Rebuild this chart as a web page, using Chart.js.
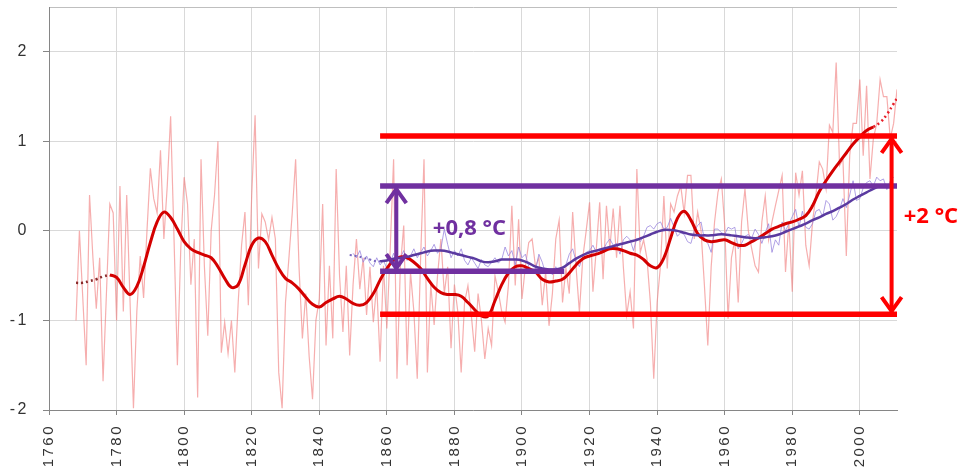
<!DOCTYPE html>
<html>
<head>
<meta charset="utf-8">
<script src="https://cdn.jsdelivr.net/npm/chart.js@4.4.1/dist/chart.umd.min.js"></script>
<style>
  html, body { margin: 0; padding: 0; background: #ffffff; }
  #wrap { width: 960px; height: 470px; position: relative; }
</style>
</head>
<body>
<div id="wrap"><canvas id="c" width="960" height="470"></canvas></div>
<script>
// ---------- DATA ----------
// Local annual anomaly (thin pink), one value per year from LOCAL_FIRST_YEAR
const LOCAL_FIRST_YEAR = 1768;
const localAnnual = [
  -1.00, 0.00, -0.75, -1.50, 0.40, -0.30, -0.87, -0.30, -1.68, -0.70,
  0.30, 0.20, -1.00, 0.50, -0.90, 0.40, -0.80, -1.98, -0.90, -0.28,
  -0.75, 0.00, 0.70, 0.36, 0.20, 0.90, -0.09, 0.50, 1.28, -0.08,
  -1.50, -0.20, 0.60, 0.30, -0.60, -0.09, -1.86, 0.80, -0.40, -1.17,
  0.00, 0.40, 1.00, -1.36, -1.02, -1.37, -1.00, -1.58, -0.80, -0.16,
  0.21, -0.83, 0.40, 1.29, -0.42, 0.19, 0.10, -0.10, 0.15, -0.09,
  -1.58, -1.98, -0.80, -0.31, 0.20, 0.80, -0.40, -1.20, -0.70, -1.40,
  -1.88, -1.00, -0.76, 0.30, -1.28, -0.39, -1.20, 0.69, -0.50, -1.13,
  -0.39, -1.39, -0.60, -0.09, -0.65, -0.30, -0.94, -0.40, -1.02, -0.60,
  -1.46, -0.39, -1.09, -0.20, 0.80, -1.65, -0.40, 0.06, -1.50, -0.46,
  -0.90, -1.65, -0.30, 0.80, -1.58, -0.60, -1.05, -0.50, -0.09, -0.70,
  -0.40, -1.31, -0.60, -0.90, -1.58, -0.80, -0.61, -0.94, -1.35, -0.70,
  -1.00, -1.43, -1.09, -1.28, -0.50, -0.68, -0.90, -1.02, -0.60, 0.28,
  -0.61, 0.13, -0.76, -0.40, -0.13, -0.09, -0.40, -0.30, -0.83, -0.46,
  -1.06, -0.70, -0.09, 0.12, -0.80, -0.42, -0.70, 0.21, -0.40, -0.91,
  -0.30, 0.00, 0.32, -0.68, -0.20, 0.32, -0.54, 0.28, -0.20, 0.25,
  -0.30, 0.28, -0.40, -0.94, -0.68, -1.09, 0.69, -0.24, -0.10, -0.31,
  -0.80, -1.65, -0.80, -0.39, 0.39, -0.42, 0.30, 0.21, 0.39, 0.50,
  0.20, 0.62, 0.62, -0.09, 0.21, 0.00, -0.61, -1.28, -0.40, 0.10,
  0.43, 0.58, 0.06, -0.98, -0.30, -0.10, -0.80, 0.10, 0.47, 0.00,
  -0.20, -0.39, -0.46, 0.10, 0.39, -0.10, 0.10, 0.28, 0.45, 0.62,
  -0.46, 0.10, -0.68, 0.65, 0.40, 0.67, -0.16, -0.39, 0.10, 0.40,
  0.77, 0.69, 0.47, 1.18, 1.10, 1.88, 0.73, 0.80, -0.28, 0.84,
  1.20, 1.20, 1.69, 0.84, 1.62, 0.58, 1.03, 1.20, 1.69, 1.50,
  1.50, 1.03, 1.20, 1.58
];

// Global annual anomaly (thin lavender), one value per year from GLOBAL_FIRST_YEAR
const GLOBAL_FIRST_YEAR = 1850;
const globalAnnual = [
  -0.25, -0.30, -0.22, -0.35, -0.28, -0.36, -0.40, -0.30, -0.38, -0.33,
  -0.42, -0.36, -0.25, -0.38, -0.30, -0.22, -0.33, -0.28, -0.20, -0.30,
  -0.24, -0.18, -0.28, -0.22, -0.15, -0.25, -0.20, 0.02, -0.15, -0.30,
  -0.22, -0.28, -0.20, -0.33, -0.38, -0.30, -0.36, -0.42, -0.32, -0.38,
  -0.40, -0.35, -0.30, -0.36, -0.32, -0.18, -0.28, -0.22, -0.38, -0.18,
  -0.30, -0.26, -0.40, -0.46, -0.44, -0.26, -0.35, -0.48, -0.44, -0.49,
  -0.40, -0.46, -0.42, -0.38, -0.26, -0.20, -0.34, -0.40, -0.28, -0.24,
  -0.22, -0.16, -0.24, -0.20, -0.22, -0.14, -0.09, -0.16, -0.14, -0.26,
  -0.10, -0.06, -0.10, -0.22, -0.08, -0.12, -0.06, 0.04, 0.06, 0.02,
  0.08, 0.10, 0.02, 0.04, 0.14, 0.04, -0.06, -0.02, -0.04, -0.12,
  -0.14, 0.00, 0.06, 0.10, -0.10, -0.14, -0.24, 0.02, 0.02, -0.02,
  -0.04, 0.04, 0.02, 0.04, -0.20, -0.14, -0.06, -0.04, -0.08, 0.02,
  -0.04, -0.14, -0.02, 0.08, -0.24, -0.10, -0.16, 0.10, 0.00, 0.08,
  0.16, 0.24, 0.04, 0.22, 0.04, 0.02, 0.08, 0.22, 0.24, 0.16,
  0.34, 0.30, 0.12, 0.16, 0.24, 0.36, 0.26, 0.40, 0.56, 0.34,
  0.36, 0.48, 0.54, 0.56, 0.50, 0.60, 0.56, 0.58, 0.46, 0.56, 0.60
];

// Smoothed local curve (thick red), every SMOOTH_STEP years from RED_SMOOTH_START
const SMOOTH_STEP = 2;
const RED_SMOOTH_START = 1778;
const redSmooth = [
  -0.49, -0.52, -0.63, -0.71, -0.62, -0.40, -0.13, 0.10, 0.21, 0.15,
  0.02, -0.12, -0.20, -0.24, -0.27, -0.30, -0.40, -0.53, -0.63, -0.60,
  -0.38, -0.16, -0.08, -0.12, -0.27, -0.42, -0.53, -0.58, -0.65, -0.74,
  -0.82, -0.85, -0.80, -0.76, -0.73, -0.76, -0.81, -0.83, -0.80, -0.70,
  -0.55, -0.42, -0.33, -0.29, -0.30, -0.35, -0.42, -0.53, -0.63, -0.69,
  -0.71, -0.71, -0.73, -0.80, -0.88, -0.95, -0.95, -0.78, -0.60, -0.47,
  -0.40, -0.39, -0.42, -0.46, -0.54, -0.57, -0.56, -0.54, -0.47, -0.38,
  -0.31, -0.28, -0.26, -0.23, -0.20, -0.20, -0.22, -0.25, -0.27, -0.32,
  -0.39, -0.41, -0.30, -0.08, 0.14, 0.22, 0.12, -0.03, -0.10, -0.12,
  -0.11, -0.10, -0.13, -0.16, -0.16, -0.12, -0.08, -0.03, 0.02, 0.05,
  0.08, 0.10, 0.13, 0.17, 0.28, 0.44, 0.56, 0.67, 0.77, 0.87,
  0.97, 1.05, 1.12, 1.16
];
// Dotted (uncertain) ends of the red smoothed curve
const redStartDotYears = [1768, 1770, 1772, 1774, 1776, 1778];
const redStartDotValues = [-0.58, -0.58, -0.56, -0.54, -0.51, -0.49];
const redEndDotYears = [2004, 2006, 2008, 2010, 2011];
const redEndDotValues = [1.16, 1.21, 1.30, 1.42, 1.48];

// Smoothed global curve (thick purple), every SMOOTH_STEP years from PURPLE_SMOOTH_START
const PURPLE_SMOOTH_START = 1858;
const purpleSmooth = [
  -0.34, -0.33, -0.31, -0.30, -0.29, -0.27, -0.25, -0.23, -0.22, -0.22,
  -0.23, -0.25, -0.27, -0.29, -0.31, -0.34, -0.35, -0.34, -0.32, -0.32,
  -0.32, -0.33, -0.36, -0.40, -0.42, -0.43, -0.43, -0.41, -0.36, -0.31,
  -0.27, -0.24, -0.22, -0.20, -0.18, -0.16, -0.14, -0.12, -0.10, -0.07,
  -0.04, -0.01, 0.01, 0.01, 0.00, -0.02, -0.04, -0.05, -0.05, -0.05,
  -0.04, -0.04, -0.05, -0.06, -0.07, -0.08, -0.08, -0.07, -0.06, -0.04,
  -0.01, 0.02, 0.05, 0.08, 0.12, 0.15, 0.19, 0.22, 0.26, 0.30,
  0.35, 0.39, 0.43, 0.47, 0.50, 0.51
];
const purpleStartDotYears = [1849, 1851, 1853, 1855, 1857, 1858];
const purpleStartDotValues = [-0.27, -0.28, -0.30, -0.32, -0.34, -0.34];

// Annotation levels
const redLevels = [1.06, -0.93];
const purpleLevels = [0.50, -0.45];
const levelStartYear = 1858;
const levelEndYear = 2011;
const purpleLowEndYear = 1912.5;
const purpleArrowYear = 1862.8;
const redArrowYear = 2009.4;
const annotationTexts = ['+0,8 °C', '+2 °C'];
const annotationTextYears = [1873.6, 2013.0];
const annotationTextValues = [0.02, 0.16];

// Axis settings
const X_MIN = 1760, X_MAX = 2011, X_STEP = 20;
const Y_MIN = -2, Y_MAX = 2.5, Y_STEP = 1;

// ---------- BUILD ----------
const RED = '#ff0000';
const PURPLE = '#7030a0';
function series(start, step, values) {
  return values.map((v, i) => ({ x: start + i * step, y: v }));
}
function pairs(xs, ys) { return xs.map((x, i) => ({ x: x, y: ys[i] })); }

const base = { pointRadius: 0, fill: false, showLine: true };

const datasets = [
  // annotation bars (on top)
  Object.assign({}, base, { order: 0, borderColor: RED, borderWidth: 5.5, tension: 0,
    data: pairs([levelStartYear, levelEndYear], [redLevels[0], redLevels[0]]) }),
  Object.assign({}, base, { order: 0, borderColor: RED, borderWidth: 5.5, tension: 0,
    data: pairs([levelStartYear, levelEndYear], [redLevels[1], redLevels[1]]) }),
  Object.assign({}, base, { order: 0, borderColor: PURPLE, borderWidth: 5.5, tension: 0,
    data: pairs([levelStartYear, levelEndYear], [purpleLevels[0], purpleLevels[0]]) }),
  Object.assign({}, base, { order: 0, borderColor: PURPLE, borderWidth: 5.5, tension: 0,
    data: pairs([levelStartYear, purpleLowEndYear], [purpleLevels[1], purpleLevels[1]]) }),
  // smoothed curves
  Object.assign({}, base, { order: 1, borderColor: '#5a3aa0', borderWidth: 2.5, tension: 0.4,
    data: series(PURPLE_SMOOTH_START, SMOOTH_STEP, purpleSmooth) }),
  Object.assign({}, base, { order: 1, borderColor: '#7a68c0', borderWidth: 2, borderDash: [2, 3],
    tension: 0.4, data: pairs(purpleStartDotYears, purpleStartDotValues) }),
  Object.assign({}, base, { order: 2, borderColor: '#d40000', borderWidth: 3, tension: 0.4,
    data: series(RED_SMOOTH_START, SMOOTH_STEP, redSmooth) }),
  Object.assign({}, base, { order: 2, borderColor: '#8a2a2a', borderWidth: 2.5, borderDash: [2, 3],
    tension: 0.4, data: pairs(redStartDotYears, redStartDotValues) }),
  Object.assign({}, base, { order: 2, borderColor: '#e8202a', borderWidth: 2.5, borderDash: [2, 3],
    tension: 0.4, data: pairs(redEndDotYears, redEndDotValues) }),
  // thin annual series
  Object.assign({}, base, { order: 3, borderColor: 'rgba(150,130,220,0.75)', borderWidth: 1, tension: 0,
    data: series(GLOBAL_FIRST_YEAR, 1, globalAnnual) }),
  Object.assign({}, base, { order: 4, borderColor: 'rgba(240,120,120,0.6)', borderWidth: 1.2, tension: 0,
    data: series(LOCAL_FIRST_YEAR, 1, localAnnual) })
];

function drawArrow(ctx, x, y1, y2, color) {
  const aw = 10, ah = 17;
  ctx.save();
  ctx.strokeStyle = color;
  ctx.lineWidth = 4;
  ctx.lineCap = 'butt';
  ctx.lineJoin = 'miter';
  ctx.beginPath();
  ctx.moveTo(x, y1 + 2); ctx.lineTo(x, y2 - 2);
  ctx.stroke();
  ctx.beginPath();
  ctx.moveTo(x - aw, y1 + ah); ctx.lineTo(x, y1 + 3); ctx.lineTo(x + aw, y1 + ah);
  ctx.stroke();
  ctx.beginPath();
  ctx.moveTo(x - aw, y2 - ah); ctx.lineTo(x, y2 - 3); ctx.lineTo(x + aw, y2 - ah);
  ctx.stroke();
  ctx.restore();
}

const annotationPlugin = {
  id: 'annot',
  beforeDraw(chart) { chart.ctx.letterSpacing = '2.5px'; },
  beforeDatasetsDraw(chart) { chart.ctx.letterSpacing = '0px'; },
  afterDatasetsDraw(chart) {
    const ctx = chart.ctx;
    const xs = chart.scales.x, ys = chart.scales.y;
    ctx.letterSpacing = '0px';
    drawArrow(ctx, xs.getPixelForValue(purpleArrowYear),
      ys.getPixelForValue(purpleLevels[0]), ys.getPixelForValue(purpleLevels[1]), PURPLE);
    drawArrow(ctx, xs.getPixelForValue(redArrowYear),
      ys.getPixelForValue(redLevels[0]), ys.getPixelForValue(redLevels[1]), RED);
    ctx.save();
    ctx.font = 'bold 22px "Open Sans", "Liberation Sans", sans-serif';
    ctx.textBaseline = 'middle';
    ctx.textAlign = 'left';
    const colors = [PURPLE, RED];
    annotationTexts.forEach((t, i) => {
      ctx.fillStyle = colors[i];
      ctx.fillText(t, xs.getPixelForValue(annotationTextYears[i]), ys.getPixelForValue(annotationTextValues[i]));
    });
    ctx.restore();
  }
};

new Chart(document.getElementById('c'), {
  type: 'line',
  data: { datasets: datasets },
  plugins: [annotationPlugin],
  options: {
    responsive: false,
    animation: false,
    events: [],
    layout: { padding: { top: 7, right: 63, left: 0, bottom: 0 } },
    plugins: { legend: { display: false }, tooltip: { enabled: false } },
    scales: {
      x: {
        type: 'linear', min: X_MIN, max: X_MAX,
        afterFit(s) { s.height = 60; },
        ticks: {
          stepSize: X_STEP, includeBounds: false, maxRotation: 90, minRotation: 90,
          padding: 9, color: '#333333',
          font: { family: '"Liberation Sans", Arial, sans-serif', size: 15 },
          callback: (v) => String(v)
        },
        grid: { color: '#d9d9d9', lineWidth: 1, tickLength: 5, tickColor: '#868686', drawTicks: true },
        border: { color: '#868686', width: 1 }
      },
      y: {
        type: 'linear', min: Y_MIN, max: Y_MAX,
        afterFit(s) { s.width = 49; s.paddingTop = 0; s.paddingBottom = 0; },
        ticks: {
          stepSize: Y_STEP, includeBounds: true, padding: 14, color: '#333333',
          font: { family: '"Liberation Sans", Arial, sans-serif', size: 16 },
          callback: (v) => (Number.isInteger(v) ? String(v) : '')
        },
        grid: {
          color: (c) => (c.tick && !Number.isInteger(c.tick.value) ? '#bfbfbf' : '#d9d9d9'),
          tickColor: (c) => (c.tick && !Number.isInteger(c.tick.value) ? 'rgba(0,0,0,0)' : '#868686'),
          lineWidth: 1, tickLength: 6
        },
        border: { color: '#868686', width: 1 }
      }
    }
  }
});
</script>
</body>
</html>
